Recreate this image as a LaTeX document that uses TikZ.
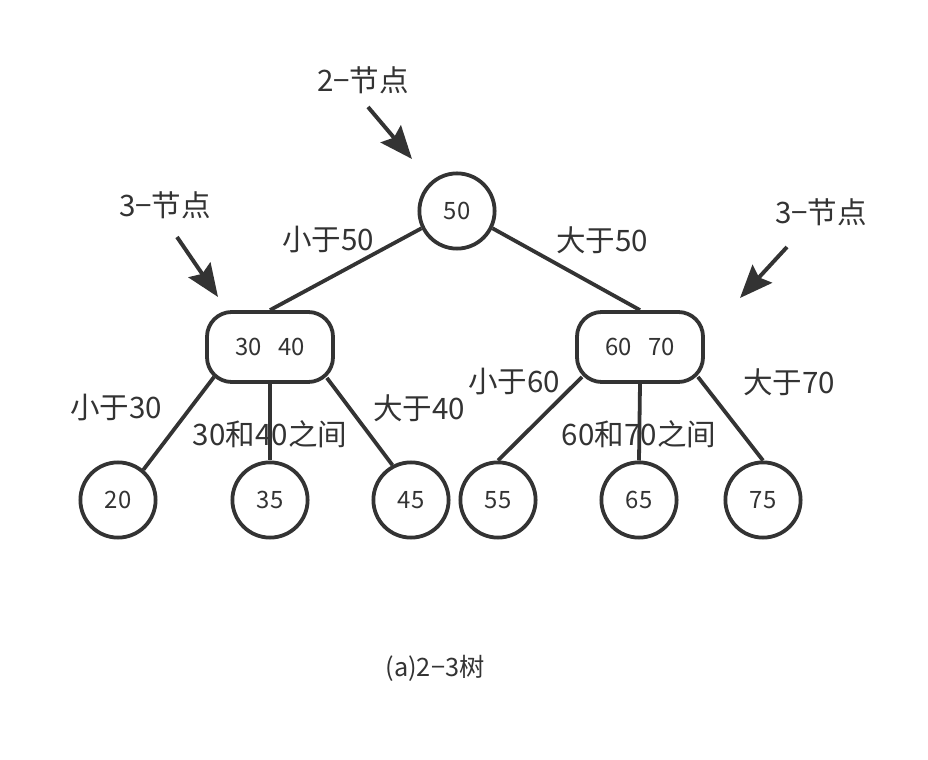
\documentclass[tikz,border=0pt]{standalone}
\usepackage{fontspec}
\newfontfamily\cjk{Noto Sans CJK SC}
\usetikzlibrary{arrows.meta}
\definecolor{ink}{HTML}{333333}
\tikzset{
	onekey/.style={circle, draw=ink, line width=2.7pt, minimum size=1.88cm, inner sep=0pt,
		text=ink, font=\cjk\fontsize{17}{20}\selectfont},
	twokey/.style={rectangle, rounded corners=0.62cm, draw=ink, line width=2.7pt,
		minimum width=3.15cm, minimum height=1.75cm, inner sep=0pt,
		text=ink, font=\cjk\fontsize{17}{20}\selectfont},
	lbl/.style={inner sep=0pt, text=ink, font=\cjk\fontsize{21}{25}\selectfont},
	link/.style={draw=ink, line width=2.7pt},
	pointer/.style={draw=ink, line width=2.8pt, -{Stealth[length=0.82cm, width=0.66cm, inset=0.12cm]}}
}
\begin{document}
\begin{tikzpicture}[x=0.025cm, y=-0.025cm]
	\useasboundingbox (0,0) rectangle (928,760);
	% keys
	\node[onekey] (root) at (457,211) {50};
	\node[twokey] (lkeys) at (270,347) {30\hspace{0.42cm}40};
	\node[twokey] (rkeys) at (640,347) {60\hspace{0.42cm}70};
	\node[onekey] (n20) at (118,500) {20};
	\node[onekey] (n35) at (270,500) {35};
	\node[onekey] (n45) at (411,500) {45};
	\node[onekey] (n55) at (498,500) {55};
	\node[onekey] (n65) at (639,500) {65};
	\node[onekey] (n75) at (763,500) {75};
	% links
	\draw[link] (root.206) -- (lkeys.north);
	\draw[link] (root.-26) -- (rkeys.north);
	\draw[link] ([shift={(9,-7)}]lkeys.south west) -- (n20.50);
	\draw[link] (lkeys.south) -- (n35.north);
	\draw[link] ([shift={(-8,-6)}]lkeys.south east) -- (n45.118);
	\draw[link] ([shift={(7,-7)}]rkeys.south west) -- (n55.north);
	\draw[link] (rkeys.south) -- (n65.north);
	\draw[link] ([shift={(-7,-7)}]rkeys.south east) -- (n75.north);
	% labels
	\node[lbl] (less50) at (328,240) {小于50};
	\node[lbl] (more50) at (602,240) {大于50};
	\node[lbl] (less30) at (116,408) {小于30};
	\node[lbl] (mid3040) at (270,434) {30和40之间};
	\node[lbl] (more40) at (419,408) {大于40};
	\node[lbl] (less60) at (514,382) {小于60};
	\node[lbl] (mid6070) at (639,434) {60和70之间};
	\node[lbl] (more70) at (789,382) {大于70};
	% pointers
	\node[lbl] (tag2) at (363,80) {2−节点};
	\node[lbl] (tag3l) at (165,205) {3−节点};
	\node[lbl] (tag3r) at (821,212) {3−节点};
	\coordinate (from2) at (368,107);
	\coordinate (to2) at (412,159);
	\coordinate (from3l) at (177,237);
	\coordinate (to3l) at (218,297);
	\coordinate (from3r) at (787,247);
	\coordinate (to3r) at (740,298);
	\draw[pointer] (from2) -- (to2);
	\draw[pointer] (from3l) -- (to3l);
	\draw[pointer] (from3r) -- (to3r);
	% caption
	\node[inner sep=0pt, text=ink, font=\cjk\fontsize{18}{22}\selectfont] (caption) at (435,668) {(a)2−3树};
\end{tikzpicture}
\end{document}
